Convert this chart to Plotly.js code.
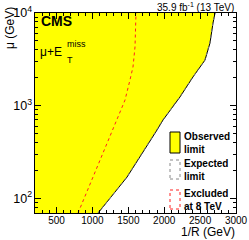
<!DOCTYPE html>
<html><head><meta charset="utf-8">
<script src="https://cdn.plot.ly/plotly-3.0.1.min.js"></script>
<style>html,body{margin:0;padding:0;background:#fff}#plot{width:249px;height:240px}</style>
</head><body><div id="plot"></div>
<script>
// Observed limit boundary (1/R in GeV, mu in GeV)
const obsInvR = [1078, 1482, 1900, 1983, 2220, 2401, 2568, 2638, 2680, 2708];
const obsMu   = [69,   169,  545,  698,  1240, 2040, 3100, 4750, 7800, 10000];
// Expected limit boundary (coincides closely with observed)
const expInvR = [1075, 1478, 1895, 1980, 2215, 2398, 2565, 2635, 2678, 2706];
const expMu   = [69,   169,  545,  698,  1240, 2040, 3100, 4750, 7800, 10000];
// Excluded at 8 TeV
const exc8InvR = [799, 1008, 1245, 1454, 1523, 1565, 1593, 1607];
const exc8Mu   = [69,  169,  458,  1148, 1890, 2610, 4290, 10000];

const xRange = [200, 3000];
const yLogRange = [1.84, 4];
const yMin = Math.pow(10, yLogRange[0]), yMax = Math.pow(10, yLogRange[1]);

const font = "Liberation Sans, Arial, Helvetica, sans-serif";

const fillX = [xRange[0]].concat(obsInvR, [xRange[0]]);
const fillY = [yMin].concat(obsMu, [yMax]);

const traces = [
  {x: fillX, y: fillY, type: 'scatter', mode: 'lines', fill: 'toself',
   fillcolor: '#ffff00', line: {width: 0}, hoverinfo: 'skip', showlegend: false},
  {x: obsInvR, y: obsMu, type: 'scatter', mode: 'lines',
   line: {color: '#000', width: 1}, showlegend: false},
  {x: expInvR, y: expMu, type: 'scatter', mode: 'lines',
   line: {color: '#777', width: 1, dash: 'dot'}, showlegend: false},
  {x: exc8InvR, y: exc8Mu, type: 'scatter', mode: 'lines',
   line: {color: '#ff2020', width: 1, dash: 'dot'}, showlegend: false}
];

function px2x(p){return (p-35)/201;}
function px2y(p){return (213-p)/200;}

const shapes = [
  {type:'rect', xref:'paper', yref:'paper', x0:px2x(170), x1:px2x(180), y0:px2y(153), y1:px2y(132),
   fillcolor:'#ffff00', line:{color:'#000', width:1}},
  {type:'rect', xref:'paper', yref:'paper', x0:px2x(170), x1:px2x(180), y0:px2y(179), y1:px2y(160),
   fillcolor:'rgba(0,0,0,0)', line:{color:'#888', width:1, dash:'dot'}},
  {type:'rect', xref:'paper', yref:'paper', x0:px2x(170), x1:px2x(180), y0:px2y(209), y1:px2y(190),
   fillcolor:'rgba(0,0,0,0)', line:{color:'#ff2020', width:1, dash:'dot'}}
];

const legFont = {family: font, size: 10, color: '#000'};
const annotations = [
  {xref:'paper', yref:'paper', x:px2x(182), y:px2y(143), xanchor:'left', yanchor:'middle', align:'left',
   text:'<b>Observed<br>limit</b>', showarrow:false, font:legFont},
  {xref:'paper', yref:'paper', x:px2x(182), y:px2y(170), xanchor:'left', yanchor:'middle', align:'left',
   text:'<b>Expected<br>limit</b>', showarrow:false, font:legFont},
  {xref:'paper', yref:'paper', x:px2x(182), y:px2y(200), xanchor:'left', yanchor:'middle', align:'left',
   text:'<b>Excluded<br>at 8 TeV</b>', showarrow:false, font:legFont},
  {xref:'paper', yref:'paper', x:px2x(39), y:px2y(21), xanchor:'left', yanchor:'middle',
   text:'<b>CMS</b>', showarrow:false, font:{family:font, size:14, color:'#000'}},
  {xref:'paper', yref:'paper', x:px2x(38), y:px2y(52), xanchor:'left', yanchor:'middle',
   text:'μ+E', showarrow:false, font:{family:font, size:12, color:'#000'}},
  {xref:'paper', yref:'paper', x:px2x(65), y:px2y(44), xanchor:'left', yanchor:'middle',
   text:'miss', showarrow:false, font:{family:font, size:9, color:'#000'}},
  {xref:'paper', yref:'paper', x:px2x(65), y:px2y(60), xanchor:'left', yanchor:'middle',
   text:'T', showarrow:false, font:{family:font, size:9, color:'#000'}},
  {xref:'paper', yref:'paper', x:1, y:px2y(7), xanchor:'right', yanchor:'middle',
   text:'35.9 fb<sup>-1</sup> (13 TeV)', showarrow:false, font:{family:font, size:10, color:'#000'}},
  {xref:'paper', yref:'paper', x:px2x(10), y:px2y(28), xanchor:'center', yanchor:'middle', textangle:-90,
   text:'μ (GeV)', showarrow:false, font:{family:font, size:12, color:'#000'}},
  {xref:'paper', yref:'paper', x:1.005, y:px2y(232), xanchor:'right', yanchor:'middle',
   text:'1/R (GeV)', showarrow:false, font:{family:font, size:12, color:'#000'}}
];

const layout = {
  width: 249, height: 240,
  margin: {l: 35, r: 13, t: 13, b: 27},
  paper_bgcolor: '#fff', plot_bgcolor: '#fff',
  showlegend: false,
  font: {family: font, size: 10, color: '#000'},
  xaxis: {range: xRange, dtick: 500, tick0: 0, ticks: 'inside', ticklen: 6, tickcolor:'#000',
    mirror: 'allticks', showline: true, linecolor: '#000', linewidth: 1, showgrid: false, zeroline: false,
    tickfont: {family: font, size: 10}, ticklabelstandoff: -2,
    minor: {dtick: 100, ticks: 'inside', ticklen: 3, tickcolor:'#000', showgrid:false}},
  yaxis: {type: 'log', range: yLogRange, dtick: 1, exponentformat: 'power', ticks: 'inside', ticklen: 6, tickcolor:'#000',
    mirror: 'allticks', showline: true, linecolor: '#000', linewidth: 1, showgrid: false, zeroline: false,
    tickfont: {family: font, size: 10},
    minor: {dtick: 'D1', ticks: 'inside', ticklen: 3, tickcolor:'#000', showgrid:false}},
  shapes: shapes,
  annotations: annotations
};

Plotly.newPlot('plot', traces, layout, {staticPlot: true, displayModeBar: false});
</script></body></html>
